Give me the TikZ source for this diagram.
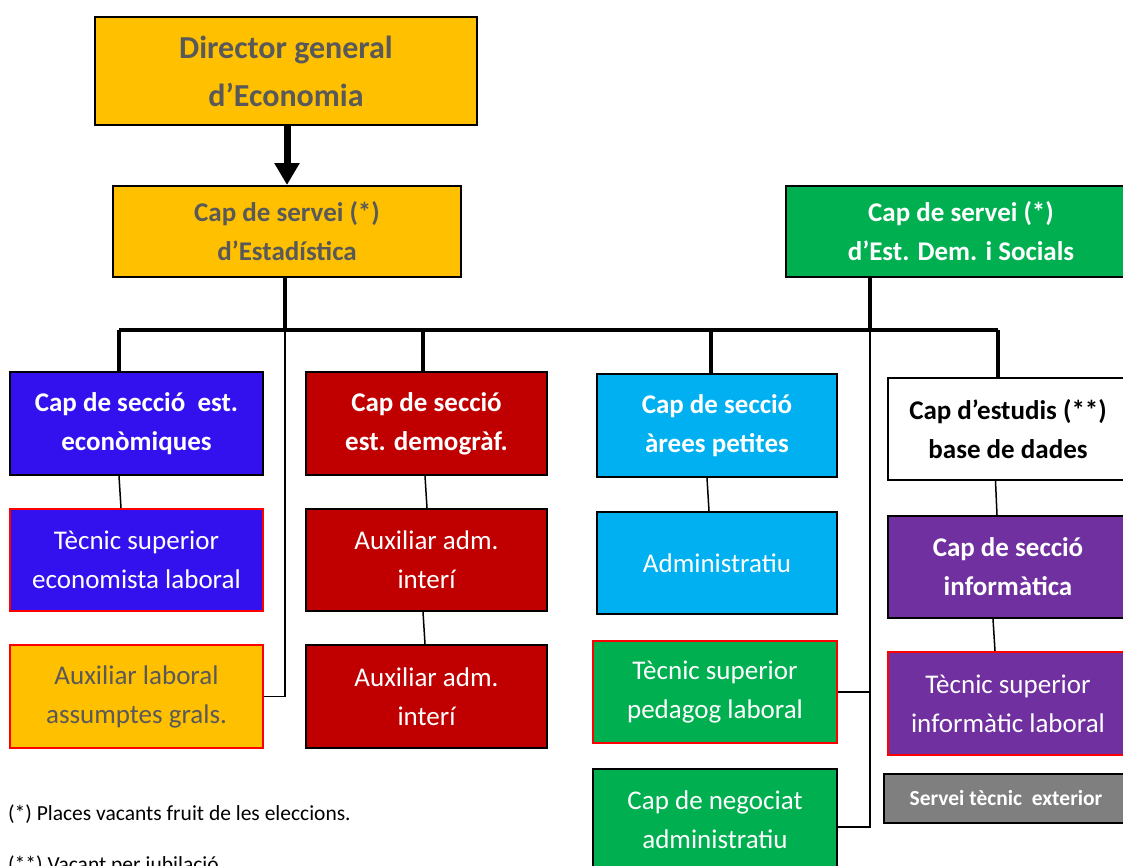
\documentclass[tikz,border=0pt]{standalone}
\usepackage{fontspec}
\setmainfont{Carlito}
\usetikzlibrary{arrows.meta}
\definecolor{corange}{HTML}{FFC000}
\definecolor{cgreen}{HTML}{00B050}
\definecolor{clblue}{HTML}{00B0F0}
\definecolor{cdred}{HTML}{C00000}
\definecolor{cpurple}{HTML}{7030A0}
\definecolor{cblue}{HTML}{3311EE}
\definecolor{cgray}{HTML}{7F7F7F}
\definecolor{ctext}{HTML}{595959}
\begin{document}
\begin{tikzpicture}[x=1pt,y=-1pt,
  box/.style={draw=black, line width=2pt, inner sep=0pt, align=center, text=white},
  redbox/.style={box, draw=red},
  bigb/.style={font=\fontsize{27}{39}\selectfont\bfseries},
  bigr/.style={font=\fontsize{27}{39}\selectfont},
  dirfont/.style={font=\fontsize{32}{48}\selectfont\bfseries},
  smallb/.style={font=\fontsize{21.5}{25}\selectfont\bfseries},
  note/.style={font=\fontsize{21.5}{25}\selectfont, anchor=base west, inner sep=0pt},
  thickline/.style={line width=4pt},
  thinline/.style={line width=1.5pt},
  arrowline/.style={line width=7pt, -{Triangle[length=22pt,width=24pt]}}
]
\useasboundingbox (0,0) rectangle (1123,865);
\clip (0,0) rectangle (1123,865);

% top level
\node[box, dirfont, fill=corange, text=ctext, minimum width=382pt, minimum height=108pt] (dir) at (286,71) {Director general\\d’Economia};
\node[box, bigb, fill=corange, text=ctext, minimum width=348pt, minimum height=91pt] (est) at (287,231.5) {Cap de servei (*)\\d’Estadística};
\node[box, bigb, fill=cgreen, minimum width=350pt, minimum height=91pt] (dem) at (961,231.5) {Cap de servei (*)\\d’Est. Dem. i Socials};

% sections
\node[box, bigb, fill=cblue, minimum width=253pt, minimum height=103pt] (sec1) at (136.5,423.5) {Cap de secció~ est.\\econòmiques};
\node[box, bigb, fill=cdred, minimum width=241pt, minimum height=103pt] (sec2) at (426.5,423.5) {Cap de secció\\est. demogràf.};
\node[box, bigb, fill=clblue, minimum width=240pt, minimum height=103pt] (sec3) at (717,425.5) {Cap de secció\\àrees petites};
\node[box, bigb, fill=white, text=black, minimum width=240pt, minimum height=102pt] (sec4) at (1008,429) {Cap d’estudis (**)\\base de dades};

% second row
\node[redbox, bigr, fill=cblue, minimum width=253pt, minimum height=102pt] (tec1) at (136.5,560) {Tècnic superior\\economista laboral};
\node[box, bigr, fill=cdred, minimum width=241pt, minimum height=102pt] (aux1) at (426.5,560) {Auxiliar adm.\\interí};
\node[box, bigr, fill=clblue, minimum width=240pt, minimum height=102pt] (adm) at (717,563) {Administratiu};
\node[box, bigb, fill=cpurple, minimum width=240pt, minimum height=102pt] (inf) at (1008,567) {Cap de secció\\informàtica};

% third row
\node[redbox, bigr, fill=corange, text=ctext, minimum width=253pt, minimum height=103pt] (auxl) at (136.5,696.5) {Auxiliar laboral\\assumptes grals.};
\node[box, bigr, fill=cdred, minimum width=241pt, minimum height=103pt] (aux2) at (426.5,696.5) {Auxiliar adm.\\interí};
\node[redbox, bigr, fill=cgreen, minimum width=244pt, minimum height=102pt] (ped) at (715,692) {Tècnic superior\\pedagog laboral};
\node[redbox, bigr, fill=cpurple, minimum width=240pt, minimum height=103pt] (tinf) at (1008,703.5) {Tècnic superior\\informàtic laboral};

% bottom row
\node[box, bigr, fill=cgreen, minimum width=244pt, minimum height=102pt] (neg) at (715,820) {Cap de negociat\\administratiu};
\node[box, smallb, fill=cgray, minimum width=244pt, minimum height=49pt] (ste) at (1006,798.5) {Servei tècnic~ exterior};

% notes
\node[note] (n1) at (8,820) {(*) Places vacants fruit de les eleccions.};
\node[note] (n2) at (8,871) {(**) Vacant per jubilació};

% connectors
\draw[arrowline] (dir.south -| est.north) -- (est.north);

\coordinate (barL) at (119,330);
\coordinate (barR) at (998,330);
\coordinate (d2) at (423,330);
\coordinate (d3) at (711,330);
\coordinate (estdrop) at ([xshift=-2pt]est.south);
\coordinate (demdrop) at ([xshift=-91pt]dem.south);

\draw[thickline] (estdrop) -- (estdrop |- barL);
\draw[thickline] (demdrop) -- (demdrop |- barL);
\draw[thickline] (barL) -- (barR);
\draw[thickline] (barL) -- (barL |- sec1.north);
\draw[thickline] (d2) -- (d2 |- sec2.north);
\draw[thickline] (d3) -- (d3 |- sec3.north);
\draw[thickline] (barR) -- (barR |- sec4.north);

\draw[thinline] (estdrop) |- (auxl.east);
\draw[thinline] (demdrop) |- (ped.east);
\draw[thinline] (demdrop) |- ([yshift=-7pt]neg.east);

\draw[thinline] ([xshift=-17.5pt]sec1.south) -- ([xshift=-15.5pt]tec1.north);
\draw[thinline] ([xshift=-1.5pt]sec2.south) -- ([xshift=0.5pt]aux1.north);
\draw[thinline] ([xshift=-3.5pt]aux1.south) -- ([xshift=-1.5pt]aux2.north);
\draw[thinline] ([xshift=-10pt]sec3.south) -- ([xshift=-8pt]adm.north);
\draw[thinline] ([xshift=-12.5pt]sec4.south) -- ([xshift=-11pt]inf.north);
\draw[thinline] ([xshift=-15pt]inf.south) -- ([xshift=-13pt]tinf.north);
\end{tikzpicture}
\end{document}
